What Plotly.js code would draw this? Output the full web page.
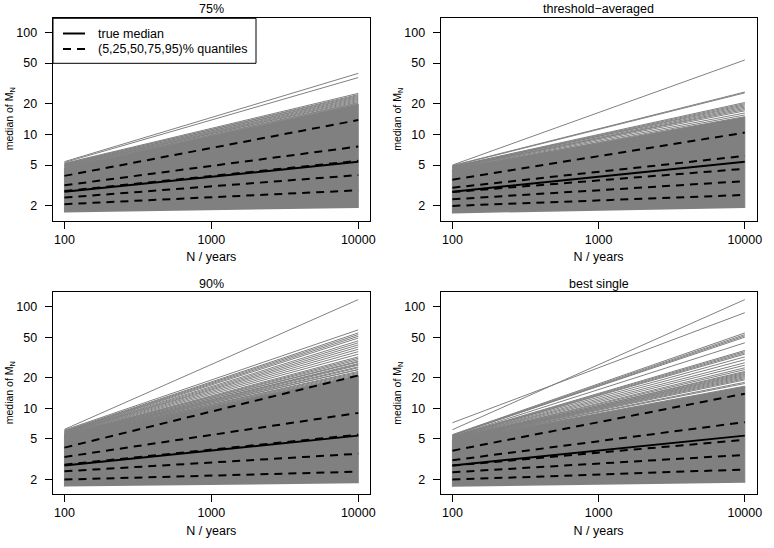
<!DOCTYPE html>
<html><head><meta charset="utf-8">
<script src="https://cdn.plot.ly/plotly-3.0.1.min.js"></script>
<style>html,body{margin:0;padding:0;background:#fff}#chart{width:774px;height:548px}</style>
</head><body><div id="chart"></div>
<script>
// ---------- data ----------
const N = [100, 10000];
const xTickVals = [100, 1000, 10000];
const xTickText = ["100", "1000", "10000"];
const yTickVals = [2, 5, 10, 20, 50, 100];
const yTickText = ["2", "5", "10", "20", "50", "100"];
const panelTitles = ["75%", "threshold\u2212averaged", "90%", "best single"];
const legendLabels = ["true median", "(5,25,50,75,95)% quantiles"];
const xTitle = "N / years";
const yTitle = "median of M<sub>N</sub>";

const trueMedian = [2.74, 5.38];

// panel "75%"
const grey75Start = [5.4, 5.3, 5.2, 5.1, 5.15, 5.0, 5.05, 4.95, 4.9, 4.85, 4.9, 4.8, 4.75];
const grey75End   = [39.6, 36, 25.2, 24.5, 24, 23.5, 23, 22.5, 22, 21.5, 21, 20.5, 20.2];
const mass75Low  = [1.72, 1.9];
const mass75High = [4.7, 19.8];
const q75Start = [2.07, 2.40, 2.78, 3.17, 3.92];
const q75End   = [2.83, 3.99, 5.5, 7.6, 13.8];

// panel "threshold-averaged"
const greyTAStart = [5.0, 4.95, 4.9, 4.85, 4.8, 4.75, 4.8, 4.7, 4.65, 4.7, 4.6, 4.55, 4.5];
const greyTAEnd   = [53.5, 26, 25.5, 20.5, 20, 19.5, 19, 18.5, 18, 17.5, 17, 16.2, 15.5];
const massTALow  = [1.68, 1.9];
const massTAHigh = [4.55, 14.9];
const qTAStart = [1.99, 2.31, 2.72, 3.0, 3.6];
const qTAEnd   = [2.55, 3.48, 4.6, 6.15, 10.4];

// panel "90%"
const grey90Start = [6.2, 6.1, 6.0, 5.95, 5.9, 5.85, 5.8, 5.75, 5.7, 5.7, 5.65, 5.6, 5.55, 5.5, 5.5, 5.45, 5.4, 5.35, 5.3, 5.25,
                     5.45, 5.4, 5.35, 5.3, 5.3, 5.25, 5.2, 5.2, 5.15];
const grey90End   = [117, 59, 55, 53, 51, 49, 46, 44, 42, 40, 38, 36, 34, 32, 30, 28.5, 27, 25.5, 24, 22.5,
                     31, 29, 27.5, 26.5, 25, 24, 23, 22, 21.5];
const mass90Low  = [1.7, 1.83];
const mass90High = [5.2, 21];
const q90Start = [1.99, 2.4, 2.79, 3.32, 4.1];
const q90End   = [2.38, 3.57, 5.5, 9.0, 21];

// panel "best single"
const greyBSStart = [7.2, 6.15, 5.5, 5.45, 5.4, 5.4, 5.3, 5.3, 5.25, 5.2, 5.2, 5.15, 5.1, 5.1, 5.05, 5.0, 5.0, 4.95, 4.9, 4.9, 4.85, 4.8, 4.8,
                     5.0, 4.95, 4.9, 4.85, 4.8];
const greyBSEnd   = [87, 117, 55, 53, 51.5, 50, 44, 37, 36, 35, 34, 32, 30, 28, 26.5, 25, 24, 23, 22, 21, 20, 19, 18,
                     22.5, 21.5, 20.5, 19.5, 17.5];
const massBSLow  = [1.69, 1.85];
const massBSHigh = [4.8, 16.5];
const qBSStart = [1.99, 2.35, 2.73, 3.08, 3.83];
const qBSEnd   = [2.5, 3.48, 4.9, 7.3, 13.9];

// ---------- build ----------
const FONT = "Liberation Sans, Arial, Helvetica, sans-serif";
const GREY = "#808080";
const panels = [
  {greyS: grey75Start, greyE: grey75End, low: mass75Low, high: mass75High, qS: q75Start, qE: q75End},
  {greyS: greyTAStart, greyE: greyTAEnd, low: massTALow, high: massTAHigh, qS: qTAStart, qE: qTAEnd},
  {greyS: grey90Start, greyE: grey90End, low: mass90Low, high: mass90High, qS: q90Start, qE: q90End},
  {greyS: greyBSStart, greyE: greyBSEnd, low: massBSLow, high: massBSHigh, qS: qBSStart, qE: qBSEnd}
];

const W = 774, H = 548;
const px = v => v / W, py = v => (H - v) / H;
const xDomains = [[px(52.7), px(370)], [px(440.7), px(756.5)], [px(52.7), px(370)], [px(440.7), px(756.5)]];
const yDomains = [[py(220.7), py(18)], [py(220.7), py(18)], [py(494.3), py(292.3)], [py(494.3), py(292.3)]];
const yTitleX = [10, 398.5, 10, 398.5];

function pairLines(s, e) {
  const x = [], y = [];
  for (let i = 0; i < s.length; i++) { x.push(N[0], N[1], null); y.push(s[i], e[i], null); }
  return {x, y};
}

const traces = [];
const layout = {
  width: W, height: H, margin: {l: 0, r: 0, t: 0, b: 0},
  paper_bgcolor: "#fff", plot_bgcolor: "#fff", showlegend: false,
  font: {family: FONT, color: "#000", size: 12.5},
  annotations: [], shapes: []
};

panels.forEach((p, i) => {
  const k = i === 0 ? "" : String(i + 1);
  const xa = "x" + k, ya = "y" + k;
  traces.push({x: [N[0], N[0], N[1], N[1]], y: [p.low[0], p.high[0], p.high[1], p.low[1]],
    xaxis: xa, yaxis: ya, mode: "lines", fill: "toself", fillcolor: GREY,
    line: {color: GREY, width: 1}, hoverinfo: "skip"});
  const g = pairLines(p.greyS, p.greyE);
  traces.push({x: g.x, y: g.y, xaxis: xa, yaxis: ya, mode: "lines",
    line: {color: GREY, width: 1}, connectgaps: false, hoverinfo: "skip"});
  const q = pairLines(p.qS, p.qE);
  traces.push({x: q.x, y: q.y, xaxis: xa, yaxis: ya, mode: "lines",
    line: {color: "#000", width: 2, dash: "8px,6px"}, connectgaps: false});
  traces.push({x: N, y: trueMedian, xaxis: xa, yaxis: ya, mode: "lines",
    line: {color: "#000", width: 2}});

  layout["xaxis" + k] = {
    type: "log", range: [1.92, 4.08], domain: xDomains[i], anchor: ya,
    tickvals: xTickVals, ticktext: xTickText, ticks: "outside", ticklen: 7, tickwidth: 1, tickcolor: "#000",
    showline: true, mirror: true, linecolor: "#000", linewidth: 1, showgrid: false, zeroline: false,
    tickfont: {size: 12.5, color: "#000"}, ticklabelstandoff: 0,
    title: {text: xTitle, font: {size: 12.5, color: "#000"}, standoff: 6}, automargin: false
  };
  layout["yaxis" + k] = {
    type: "log", range: [0.154, 2.140], domain: yDomains[i], anchor: xa,
    tickvals: yTickVals, ticktext: yTickText, ticks: "outside", ticklen: 7, tickwidth: 1, tickcolor: "#000",
    showline: true, mirror: true, linecolor: "#000", linewidth: 1, showgrid: false, zeroline: false,
    tickfont: {size: 12.5, color: "#000"}, ticklabelstandoff: 5, automargin: false
  };
  // y axis title
  layout.annotations.push({
    text: yTitle, xref: "paper", yref: "paper", textangle: -90,
    x: px(yTitleX[i]), y: (yDomains[i][0] + yDomains[i][1]) / 2,
    xanchor: "center", yanchor: "middle", showarrow: false, font: {size: 10.5, color: "#000"}
  });
  // panel title
  layout.annotations.push({
    text: panelTitles[i], xref: "paper", yref: "paper",
    x: (xDomains[i][0] + xDomains[i][1]) / 2, y: i < 2 ? py(9.3) : py(283.5),
    xanchor: "center", yanchor: "middle", showarrow: false, font: {size: 12.5, color: "#000"}
  });
});

// legend box (top-left panel)
layout.shapes.push({type: "rect", xref: "paper", yref: "paper", x0: px(53), x1: px(256), y0: py(63.3), y1: py(18.3),
  line: {color: "#000", width: 1}, fillcolor: "#fff", layer: "above"});
layout.shapes.push({type: "line", xref: "paper", yref: "paper", x0: px(63), x1: px(85), y0: py(33.5), y1: py(33.5),
  line: {color: "#000", width: 2}, layer: "above"});
layout.shapes.push({type: "line", xref: "paper", yref: "paper", x0: px(63), x1: px(85), y0: py(49), y1: py(49),
  line: {color: "#000", width: 2, dash: "8px,6px"}, layer: "above"});
legendLabels.forEach((t, j) => layout.annotations.push({
  text: t, xref: "paper", yref: "paper", x: px(96), y: py(j === 0 ? 33.5 : 49),
  xanchor: "left", yanchor: "middle", showarrow: false, font: {size: 12.5, color: "#000"}
}));

Plotly.newPlot("chart", traces, layout, {staticPlot: true, displayModeBar: false});
</script></body></html>
